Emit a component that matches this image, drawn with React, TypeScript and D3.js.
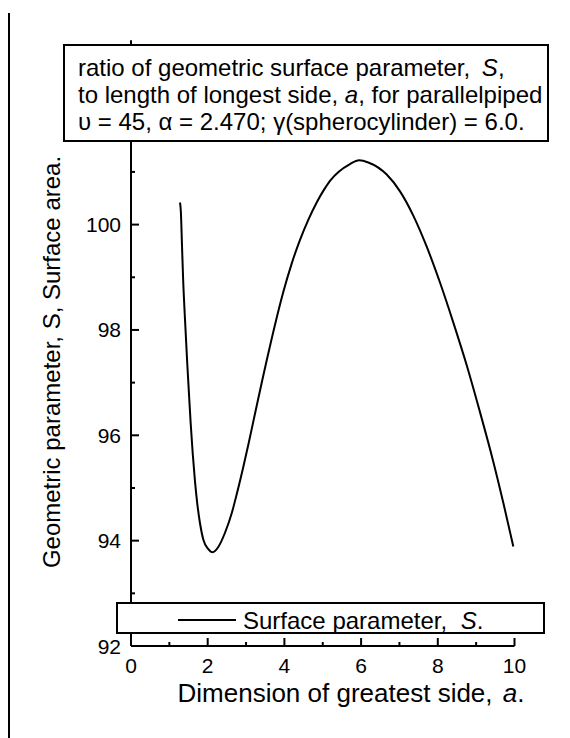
import React from "react";
import * as d3 from "d3";

const aValues = [1.278, 1.3, 1.33, 1.36, 1.408, 1.468, 1.52, 1.557, 1.609, 1.669, 1.729, 1.799, 1.885, 2.016, 2.13, 2.276, 2.451, 2.626, 2.756, 2.928, 3.059, 3.189, 3.319, 3.424, 3.538, 3.755, 3.971, 4.19, 4.407, 4.623, 4.842, 5.014, 5.189, 5.711, 5.95, 6.188, 6.668, 7.015, 7.361, 7.711, 8.057, 8.405, 8.754, 9.1, 9.447, 9.708, 9.969];
const sValues = [100.42, 100.25, 99.6, 98.95, 98.2, 97.35, 96.68, 96.22, 95.66, 95.12, 94.7, 94.33, 94.02, 93.84, 93.78, 93.88, 94.15, 94.52, 94.88, 95.4, 95.82, 96.26, 96.7, 97.05, 97.42, 98.1, 98.72, 99.26, 99.71, 100.09, 100.42, 100.64, 100.83, 101.15, 101.22, 101.18, 100.95, 100.63, 100.17, 99.58, 98.9, 98.14, 97.33, 96.44, 95.5, 94.72, 93.89];

const xMajorTicks = [0, 2, 4, 6, 8, 10];
const xMinorTicks = [1, 3, 5, 7, 9];
const yMajorTicks = [92, 94, 96, 98, 100];
const yMinorTicks = [93, 95, 97, 99, 101];

const FONT = "'Liberation Sans', Arial, Helvetica, sans-serif";

export default function App() {
  const x = d3.scaleLinear().domain([0, 10]).range([131, 514.5]);
  const y = d3.scaleLinear().domain([92, 100]).range([646, 224.6]);
  const pts: [number, number][] = aValues.map((a, i) => [a, sValues[i]]);
  const line = d3
    .line<[number, number]>()
    .x((d) => x(d[0]))
    .y((d) => y(d[1]))
    .curve(d3.curveMonotoneX);

  const x0 = x(0);
  const y0 = y(92);
  const yTop = y(103.5);

  return (
    <div style={{ position: "absolute", left: 0, top: 0 }}>
      <svg width={570} height={738} style={{ display: "block", background: "#fff" }} fontFamily={FONT}>
        <rect x={0} y={0} width={570} height={738} fill="#fff" />
        {/* left border line */}
        <line x1={9} y1={13} x2={9} y2={738} stroke="#000" strokeWidth={2} />

        {/* axes */}
        <line x1={x0} y1={yTop} x2={x0} y2={y0} stroke="#000" strokeWidth={2} />
        <line x1={x0} y1={y0} x2={x(10)} y2={y0} stroke="#000" strokeWidth={2} />

        {xMajorTicks.map((t) => (
          <g key={"xM" + t}>
            <line x1={x(t)} x2={x(t)} y1={y0} y2={y0 - 8} stroke="#000" strokeWidth={2} />
            <text x={x(t)} y={673} fontSize={21} textAnchor="middle">{t}</text>
          </g>
        ))}
        {xMinorTicks.map((t) => (
          <line key={"xm" + t} x1={x(t)} x2={x(t)} y1={y0} y2={y0 - 4} stroke="#000" strokeWidth={2} />
        ))}
        {yMajorTicks.map((t) => (
          <g key={"yM" + t}>
            <line x1={x0} x2={x0 + 8} y1={y(t)} y2={y(t)} stroke="#000" strokeWidth={2} />
            <text x={121} y={y(t) + 7.5} fontSize={21} textAnchor="end">{t}</text>
          </g>
        ))}
        {yMinorTicks.map((t) => (
          <line key={"ym" + t} x1={x0} x2={x0 + 4} y1={y(t)} y2={y(t)} stroke="#000" strokeWidth={2} />
        ))}

        {/* curve */}
        <path d={line(pts) || ""} fill="none" stroke="#000" strokeWidth={2} strokeLinejoin="round" />

        {/* title box */}
        <rect x={64} y={45} width={484} height={96} fill="#fff" stroke="#000" strokeWidth={2} />
        <text x={78} y={76} fontSize={24}>
          ratio of geometric surface parameter, <tspan dx={5} fontStyle="italic">S</tspan>,
        </text>
        <text x={78} y={103} fontSize={24}>
          to length of longest side, <tspan fontStyle="italic">a</tspan>, for parallelpiped
        </text>
        <text x={78} y={130} fontSize={24}>
          υ = 45, α = 2.470; γ(spherocylinder) = 6.0.
        </text>

        {/* legend box */}
        <rect x={117} y={603} width={427} height={30} fill="#fff" stroke="#000" strokeWidth={2} />
        <line x1={178} x2={236} y1={620} y2={620} stroke="#000" strokeWidth={2} />
        <text x={243} y={629} fontSize={24}>
          Surface parameter, <tspan dx={7} fontStyle="italic">S</tspan>.
        </text>

        {/* axis titles */}
        <text x={351} y={702} fontSize={26} textAnchor="middle">
          Dimension of greatest side, <tspan dx={3} fontStyle="italic">a</tspan>.
        </text>
        <text transform="translate(60,362) rotate(-90)" fontSize={24} textAnchor="middle">
          Geometric parameter, S, Surface area.
        </text>
      </svg>
    </div>
  );
}
